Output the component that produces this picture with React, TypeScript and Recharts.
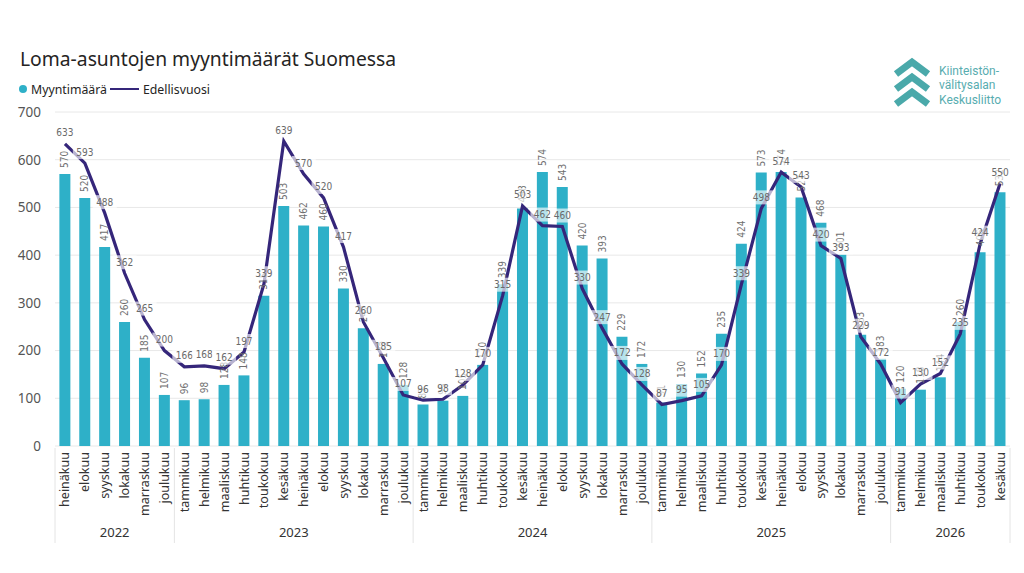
import { ComposedChart, Bar, Line, XAxis, YAxis, CartesianGrid, LabelList } from 'recharts';

const months = [
  'heinäkuu', 'elokuu', 'syyskuu', 'lokakuu', 'marraskuu', 'joulukuu',
  'tammikuu', 'helmikuu', 'maaliskuu', 'huhtikuu', 'toukokuu', 'kesäkuu',
  'heinäkuu', 'elokuu', 'syyskuu', 'lokakuu', 'marraskuu', 'joulukuu',
  'tammikuu', 'helmikuu', 'maaliskuu', 'huhtikuu', 'toukokuu', 'kesäkuu',
  'heinäkuu', 'elokuu', 'syyskuu', 'lokakuu', 'marraskuu', 'joulukuu',
  'tammikuu', 'helmikuu', 'maaliskuu', 'huhtikuu', 'toukokuu', 'kesäkuu',
  'heinäkuu', 'elokuu', 'syyskuu', 'lokakuu', 'marraskuu', 'joulukuu',
  'tammikuu', 'helmikuu', 'maaliskuu', 'huhtikuu', 'toukokuu', 'kesäkuu',
];

const years = ['2022', '2023', '2024', '2025', '2026'];
const monthsPerYear = [6, 12, 12, 12, 6];

// Myyntimäärä (bars)
const myyntimaara = [
  570, 520, 417, 260, 185, 107,
  96, 98, 128, 148, 315, 503, 462, 460, 330, 247, 172, 128,
  87, 95, 105, 170, 339, 498, 574, 543, 420, 393, 229, 172,
  91, 130, 152, 235, 424, 573, 574, 521, 468, 401, 233, 183,
  120, 118, 144, 260, 406, 532,
];

// Edellisvuosi (line)
const edellisvuosi = [
  633, 593, 488, 362, 265, 200,
  166, 168, 162, 197, 339, 639, 570, 520, 417, 260, 185, 107,
  96, 98, 128, 170, 315, 503, 462, 460, 330, 247, 172, 128,
  87, 95, 105, 170, 339, 498, 574, 543, 420, 393, 229, 172,
  91, 130, 152, 235, 424, 550,
];

const yTicks = [0, 100, 200, 300, 400, 500, 600, 700];

const BAR_COLOR = '#2eb0c8';
const LINE_COLOR = '#35267a';
const FONT = '"Noto Sans", "Open Sans", sans-serif';
const LABEL_FONT = '"DejaVu Sans Condensed", "DejaVu Sans", sans-serif';

const W = 1024;
const H = 573;
const M = { top: 112, right: 14, bottom: 25, left: 0 };
const Y_AXIS_W = 55;
const MONTH_AXIS_H = 62;
const YEAR_AXIS_H = 40;
const PLOT_BOTTOM = H - M.bottom - MONTH_AXIS_H - YEAR_AXIS_H;
const BAND = (W - M.left - M.right - Y_AXIS_W) / months.length;

const data = months.map((m, i) => ({
  idx: i,
  month: m,
  myyntimaara: myyntimaara[i],
  edellisvuosi: edellisvuosi[i],
}));

const groupStarts: Record<number, { year: string; count: number; last: boolean }> = {};
{
  let s = 0;
  years.forEach((y, k) => {
    groupStarts[s] = { year: y, count: monthsPerYear[k], last: k === years.length - 1 };
    s += monthsPerYear[k];
  });
}

const MonthTick = (props: any) => {
  const { x, y, payload } = props;
  return (
    <text
      x={x}
      y={y}
      transform={`rotate(-90, ${x}, ${y})`}
      textAnchor="end"
      dominantBaseline="central"
      fontSize={12.5}
      fontFamily={FONT}
      fill="#333"
    >
      {months[payload.index]}
    </text>
  );
};

const YearTick = (props: any) => {
  const { x, payload } = props;
  const g = groupStarts[payload.index];
  if (!g) return <g />;
  const left = x - BAND / 2;
  const right = left + g.count * BAND;
  return (
    <g>
      <line x1={left} x2={left} y1={PLOT_BOTTOM + 2} y2={PLOT_BOTTOM + 97} stroke="#e4e4e4" />
      {g.last && (
        <line x1={right} x2={right} y1={PLOT_BOTTOM + 2} y2={PLOT_BOTTOM + 97} stroke="#e4e4e4" />
      )}
      <text
        x={(left + right) / 2}
        y={PLOT_BOTTOM + 91}
        textAnchor="middle"
        fontSize={13}
        fontFamily={FONT}
        fill="#333"
      >
        {g.year}
      </text>
    </g>
  );
};

const BarValueLabel = (props: any) => {
  const { x, y, width, value } = props;
  const cx = Number(x) + Number(width) / 2;
  const ty = Number(y) - 6;
  return (
    <text
      x={cx}
      y={ty}
      transform={`rotate(-90, ${cx}, ${ty})`}
      textAnchor="start"
      dominantBaseline="central"
      fontSize={10}
      fontFamily={LABEL_FONT}
      fill="#6f6f6f"
    >
      {value}
    </text>
  );
};

const LineValueLabel = (props: any) => {
  const { x, y, value } = props;
  const cy = Number(y) - 11;
  const w = String(value).length * 6 + 6;
  return (
    <g>
      <rect x={Number(x) - w / 2} y={cy - 7} width={w} height={14} fill="#ffffff" fillOpacity={0.65} />
      <text
        x={x}
        y={cy}
        textAnchor="middle"
        dominantBaseline="central"
        fontSize={10}
        fontFamily={LABEL_FONT}
        fill="#6a6a6a"
      >
        {value}
      </text>
    </g>
  );
};

const Logo = () => (
  <svg width={130} height={62} style={{ position: 'absolute', left: 888, top: 52 }}>
    {[0, 15, 30].map((d) => (
      <polyline
        key={d}
        points={`8,${22 + d} 24,${10 + d} 40,${22 + d}`}
        fill="none"
        stroke="#4aa9aa"
        strokeWidth={7}
        strokeLinejoin="miter"
      />
    ))}
    <text x={51} y={22.5} fontSize={12} fontFamily="Roboto, sans-serif" fill="#58adb0">Kiinteistön-</text>
    <text x={51} y={37} fontSize={12} fontFamily="Roboto, sans-serif" fill="#58adb0">välitysalan</text>
    <text x={51} y={51.5} fontSize={12} fontFamily="Roboto, sans-serif" fill="#58adb0">Keskusliitto</text>
  </svg>
);

export default function App() {
  return (
    <div style={{ position: 'absolute', left: 0, top: 0, width: W, height: H, background: '#fff', fontFamily: FONT }}>
      <div style={{ position: 'absolute', left: 20, top: 45, fontSize: 19.3, color: '#252423', whiteSpace: 'nowrap' }}>
        Loma-asuntojen myyntimäärät Suomessa
      </div>
      <div style={{ position: 'absolute', left: 19, top: 80, height: 18, display: 'flex', alignItems: 'center', fontSize: 12.3, color: '#252423', whiteSpace: 'nowrap' }}>
        <span style={{ width: 8, height: 8, borderRadius: 4, background: BAR_COLOR, display: 'inline-block', marginRight: 4 }} />
        <span>Myyntimäärä</span>
        <span style={{ width: 29, height: 2, background: LINE_COLOR, display: 'inline-block', marginLeft: 3, marginRight: 4 }} />
        <span>Edellisvuosi</span>
      </div>
      <Logo />
      <div style={{ position: 'absolute', left: 0, top: 0 }}>
        <ComposedChart width={W} height={H} data={data} margin={M} barCategoryGap="22%">
          <CartesianGrid horizontal vertical={false} stroke="#e8e8e8" />
          <XAxis
            dataKey="idx"
            type="category"
            interval={0}
            axisLine={false}
            tickLine={false}
            tickSize={0}
            tickMargin={6}
            height={MONTH_AXIS_H}
            tick={<MonthTick />}
          />
          <XAxis
            xAxisId="year"
            dataKey="idx"
            type="category"
            interval={0}
            axisLine={false}
            tickLine={false}
            height={YEAR_AXIS_H}
            tick={<YearTick />}
          />
          <YAxis
            domain={[0, 700]}
            ticks={yTicks}
            width={Y_AXIS_W}
            axisLine={false}
            tickLine={false}
            tickMargin={8}
            tick={{ fontSize: 13.5, fill: '#555', fontFamily: FONT }}
          />
          <Bar dataKey="myyntimaara" fill={BAR_COLOR} isAnimationActive={false}>
            <LabelList dataKey="myyntimaara" content={<BarValueLabel />} />
          </Bar>
          <Line
            type="linear"
            dataKey="edellisvuosi"
            stroke={LINE_COLOR}
            strokeWidth={3.2}
            dot={false}
            activeDot={false}
            isAnimationActive={false}
          >
            <LabelList dataKey="edellisvuosi" content={<LineValueLabel />} />
          </Line>
        </ComposedChart>
      </div>
    </div>
  );
}
